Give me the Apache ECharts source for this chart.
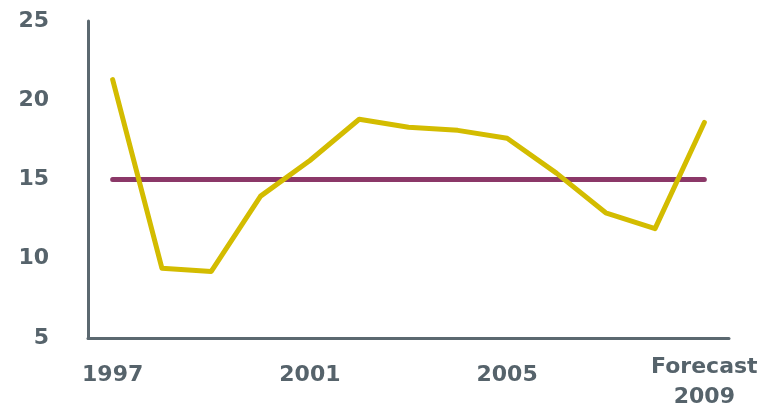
<!DOCTYPE html>
<html>
<head>
<meta charset="utf-8">
<script src="https://cdn.jsdelivr.net/npm/echarts@6/dist/echarts.min.js"></script>
<style>html,body{margin:0;padding:0;background:#fff;}#c{width:763px;height:417px;}</style>
</head>
<body>
<div id="c"></div>
<script>
var categories = ['1997','1998','1999','2000','2001','2002','2003','2004','2005','2006','2007','2008','Forecast\n2009'];
var values = [21.3, 9.4, 9.2, 13.95, 16.2, 18.8, 18.3, 18.1, 17.6, 15.4, 12.9, 11.9, 18.6];
var benchmark = [15, 15, 15, 15, 15, 15, 15, 15, 15, 15, 15, 15, 15];
var yTicks = [5, 10, 15, 20, 25];

var axisColor = '#5b6870';
var textColor = '#56636b';
var labelFont = {color: textColor, fontFamily: 'DejaVu Sans', fontWeight: 'bold', fontSize: 22};
var chart = echarts.init(document.getElementById('c'), null, {renderer: 'canvas'});
chart.setOption({
  animation: false,
  backgroundColor: '#ffffff',
  grid: {left: 88, right: 34, top: 21, bottom: 79, containLabel: false, outerBoundsMode: 'none'},
  xAxis: {
    type: 'category',
    data: categories,
    boundaryGap: true,
    axisLine: {lineStyle: {color: axisColor, width: 3}},
    axisTick: {show: false},
    axisLabel: {
      interval: 3,
      margin: 14,
      verticalAlign: 'top',
      color: textColor,
      fontFamily: 'DejaVu Sans',
      fontWeight: 'bold',
      fontSize: 22,
      hideOverlap: false,
      formatter: function (v) {
        var parts = String(v).split('\n');
        if (parts.length > 1) {
          return parts.map(function (p) { return '{m|' + p + '}'; }).join('\n');
        }
        return '{s|' + v + '}';
      },
      rich: {
        s: Object.assign({lineHeight: 47}, labelFont),
        m: Object.assign({lineHeight: 30}, labelFont)
      }
    },
    splitLine: {show: false}
  },
  yAxis: {
    type: 'value',
    min: yTicks[0],
    max: yTicks[yTicks.length - 1],
    interval: 5,
    axisLine: {show: true, lineStyle: {color: axisColor, width: 3}},
    axisTick: {show: false},
    splitLine: {show: false},
    axisLabel: {
      margin: 39,
      color: textColor,
      fontFamily: 'DejaVu Sans',
      fontWeight: 'bold',
      fontSize: 22
    }
  },
  series: [
    {
      type: 'line',
      data: benchmark,
      symbol: 'none',
      lineStyle: {color: '#8b3868', width: 5, cap: 'round'},
      z: 2
    },
    {
      type: 'line',
      data: values,
      symbol: 'none',
      lineStyle: {color: '#d3bc00', width: 5, cap: 'round', join: 'round'},
      z: 3
    }
  ]
});
</script>
</body>
</html>
